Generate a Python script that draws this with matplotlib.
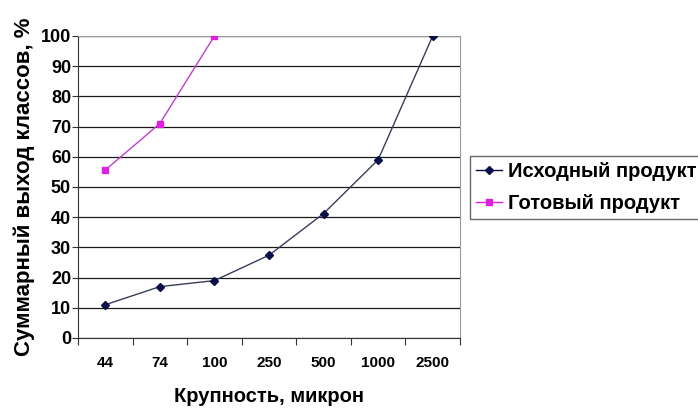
import numpy as np
import matplotlib
matplotlib.use("Agg")
import matplotlib.pyplot as plt
from matplotlib.lines import Line2D

plt.rcParams['font.family'] = ['Liberation Sans', 'DejaVu Sans']

sizes = ["44", "74", "100", "250", "500", "1000", "2500"]
source_product = [11, 17, 19, 27.4, 41.2, 59, 100]
finished_product = [55.6, 71, 100]
series_names = ["Исходный продукт", "Готовый продукт"]
navy = "#0a0f4a"
magenta = "#e020e0"

fig = plt.figure(figsize=(6.98, 4.08), dpi=100)
ax = fig.add_axes([0.1117, 0.1716, 0.5473, 0.7402])

x_src = np.arange(len(source_product))
x_fin = np.arange(len(finished_product))

ax.plot(x_src, source_product, color="#3a3d5a", lw=1.0, zorder=3)
ax.plot(x_src, source_product, linestyle="none", marker="D", ms=4.5,
        color=navy, zorder=4)
ax.plot(x_fin, finished_product, color="#c040c8", lw=1.0, zorder=3)
ax.plot(x_fin, finished_product, linestyle="none", marker="s", ms=5,
        color=magenta, zorder=4)

ax.set_xlim(-0.5, len(sizes) - 0.5)
ax.set_ylim(0, 100)
ax.set_yticks(range(0, 101, 10))
ax.set_xticks(np.arange(len(sizes)))
ax.set_xticklabels(sizes)
ax.set_xticks(np.arange(-0.5, len(sizes) + 0.5, 1), minor=True)
ax.tick_params(axis="x", which="major", length=0, pad=13)
ax.tick_params(axis="x", which="minor", length=5, width=0.8, direction="out",
               color="#333333")
ax.tick_params(axis="y", length=4, width=0.8, color="#333333", pad=1)
for lbl in ax.get_xticklabels():
    lbl.set_fontweight("bold")
    lbl.set_fontsize(11)
for lbl in ax.get_yticklabels():
    lbl.set_fontweight("bold")
    lbl.set_fontsize(13)

ax.yaxis.grid(True, color="#1a1a1a", lw=0.9)
ax.set_axisbelow(True)
for side in ["top", "right"]:
    ax.spines[side].set_color("#999999")
ax.spines["left"].set_color("#333333")
ax.spines["bottom"].set_color("#333333")

ax.set_xlabel("Крупность, микрон", fontsize=14.5, fontweight="bold",
              labelpad=12)
ax.set_ylabel("Суммарный выход классов, %", fontsize=16, fontweight="bold",
              labelpad=4)

handles = [
    Line2D([], [], color=navy, marker="D", ms=4, lw=1.0),
    Line2D([], [], color=magenta, marker="s", ms=4, lw=1.0),
]
leg = fig.legend(handles, series_names, loc="center left",
                 bbox_to_anchor=(0.673, 0.54), frameon=True, fancybox=False,
                 prop={"weight": "bold", "size": 14.5}, handlelength=1.3,
                 handletextpad=0.3, borderpad=0.3, labelspacing=0.65,
                 borderaxespad=0)
leg.get_frame().set_edgecolor("#444444")
leg.get_frame().set_linewidth(1.0)

fig.savefig("out.png", dpi=100)
